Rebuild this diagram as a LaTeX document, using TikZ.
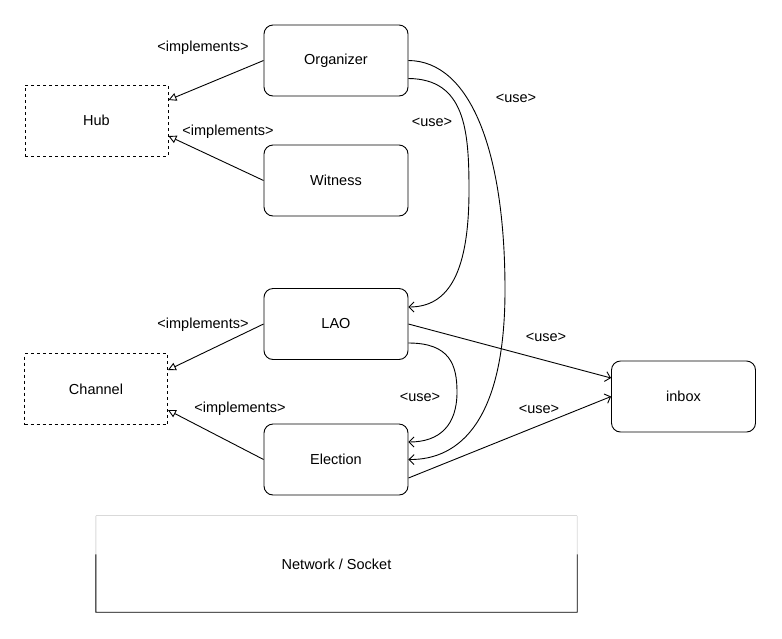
\documentclass[tikz,border=0pt]{standalone}
\usepackage{fontspec}
\setmainfont{Liberation Sans}
\usetikzlibrary{arrows.meta,calc}
\begin{document}
\begin{tikzpicture}[x=1pt,y=-1pt,
  font=\fontsize{14.5}{17}\selectfont,
  box/.style={draw,rounded corners=9pt,line width=0.9pt,minimum width=144pt,minimum height=71pt,inner sep=0pt},
  iface/.style={draw,dashed,line width=0.9pt,minimum width=143pt,minimum height=71pt,inner sep=0pt},
  impl/.style={line width=0.9pt,-{Triangle[open,length=8pt,width=8pt]}},
  use/.style={line width=0.9pt,-{Straight Barb[length=5pt,width=10pt]}},
  lbl/.style={inner sep=1pt}]
\useasboundingbox (0,0) rectangle (782,638);
\node[box] (org) at (336,60.5) {Organizer};
\node[box] (wit) at (336,180.5) {Witness};
\node[box] (lao) at (336,324) {LAO};
\node[box] (ele) at (336,459.5) {Election};
\node[iface] (hub) at (96.5,120.5) {Hub};
\node[iface] (chan) at (96,389) {Channel};
\node[box] (inbox) at (683.5,396.5) {inbox};
% Network / Socket
\node[minimum width=481pt,minimum height=96pt,inner sep=0pt] (net) at (336.5,564) {Network / Socket};
\draw[line width=0.8pt,black!15] (net.north west) -- (net.north east);
\draw[line width=0.9pt,black!15] (net.north west) -- ($(net.north west)!0.4!(net.south west)$) coordinate (nl);
\draw[line width=0.9pt,black!15] (net.north east) -- ($(net.north east)!0.4!(net.south east)$) coordinate (nr);
\draw[line width=0.9pt] (nl) -- (net.south west) -- (net.south east) -- (nr);
% implements
\draw[impl] (org.west) -- ([yshift=20.5pt]hub.east);
\draw[impl] (wit.west) -- ([yshift=-15.5pt]hub.east);
\draw[impl] (lao.west) -- ([yshift=19pt]chan.east);
\draw[impl] (ele.west) -- ([yshift=-21pt]chan.east);
\node[lbl] (l1) at (203,48) {<implements>};
\node[lbl] (l2) at (228,132) {<implements>};
\node[lbl] (l3) at (203,325) {<implements>};
\node[lbl] (l4) at (240,409) {<implements>};
% use
\draw[use] (org.east) .. controls (470,61) and (505,150) .. (505,290) .. controls (505,420) and (460,460) .. (ele.east);
\draw[use] ([yshift=-18pt]org.east) .. controls (465,79) and (469,130) .. (469,190) .. controls (469,270) and (450,307) .. ([yshift=17pt]lao.east);
\draw[use] ([yshift=-19pt]lao.east) .. controls (450,343) and (457,365) .. (457,392) .. controls (457,425) and (440,442) .. ([yshift=17.5pt]ele.east);
\draw[use] (lao.east) -- ([yshift=18.5pt]inbox.west);
\draw[use] ([yshift=-18.5pt]ele.east) -- (inbox.west);
\node[lbl] (u1) at (516,98) {<use>};
\node[lbl] (u2) at (432,122) {<use>};
\node[lbl] (u3) at (546,337) {<use>};
\node[lbl] (u4) at (420,397) {<use>};
\node[lbl] (u5) at (539,409) {<use>};
\end{tikzpicture}
\end{document}
